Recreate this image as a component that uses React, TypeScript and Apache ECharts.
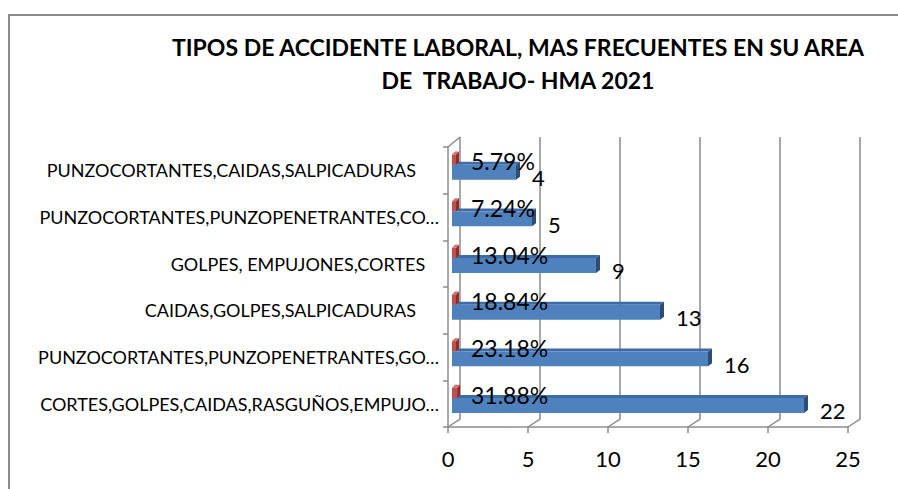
import React, { useEffect, useRef } from "react";
import * as echarts from "echarts";

const titleLines = [
  "TIPOS DE ACCIDENTE LABORAL, MAS FRECUENTES EN SU AREA",
  "DE  TRABAJO- HMA 2021",
];
// bottom to top (trailing no-break spaces as in the original labels)
const categories = [
  "CORTES,GOLPES,CAIDAS,RASGUÑOS,EMPUJO…",
  "PUNZOCORTANTES,PUNZOPENETRANTES,GO…",
  "CAIDAS,GOLPES,SALPICADURAS\u00A0\u00A0\u00A0\u00A0\u00A0",
  "GOLPES, EMPUJONES,CORTES\u00A0\u00A0\u00A0",
  "PUNZOCORTANTES,PUNZOPENETRANTES,CO…",
  "PUNZOCORTANTES,CAIDAS,SALPICADURAS\u00A0\u00A0\u00A0\u00A0\u00A0",
];
const counts = [22, 16, 13, 9, 5, 4];
const percents = [31.88, 23.18, 18.84, 13.04, 7.24, 5.79];
const xTicks = [0, 5, 10, 15, 20, 25];

const FONT = "Lato, 'Noto Sans', sans-serif";
const GRID = "#8c8c8c";

export default function App() {
  const ref = useRef<HTMLDivElement>(null);
  useEffect(() => {
    if (!ref.current) return;
    const chart = echarts.init(ref.current, undefined, { renderer: "svg" });
    const option: any = {
      animation: false,
      backgroundColor: "#fff",
      textStyle: { fontFamily: FONT },
      grid: { left: 448, top: 147, width: 400, height: 280 },
      xAxis: {
        type: "value",
        min: 0,
        max: 25,
        interval: 5,
        splitLine: { show: false },
        axisLine: { show: true, lineStyle: { color: GRID, width: 1.5 } },
        axisTick: { show: true, length: 6, lineStyle: { color: GRID, width: 1.5 } },
        axisLabel: { margin: 20, fontSize: 22, color: "#000", fontFamily: FONT },
      },
      yAxis: {
        type: "category",
        data: categories,
        axisLine: { show: true, lineStyle: { color: GRID, width: 1.5 } },
        axisTick: { show: true, length: 5, lineStyle: { color: GRID, width: 1.5 } },
        axisLabel: {
          margin: 9,
          fontSize: 18,
          color: "#000",
          fontFamily: FONT,
          padding: [6, 0, 0, 0],
        },
      },
      graphic: [
        {
          type: "rect",
          shape: { x: 9, y: 15, width: 1000, height: 1000 },
          style: { fill: "none", stroke: "#8a8a8a", lineWidth: 2 },
          silent: true,
        },
        ...titleLines.map((t, k) => ({
          type: "text",
          x: 518,
          y: 47 + k * 33,
          style: {
            text: t,
            fill: "#000",
            fontSize: 23,
            fontWeight: "bold",
            fontFamily: FONT,
            textAlign: "center",
            textVerticalAlign: "middle",
          },
        })),
      ],
      series: [
        {
          type: "custom",
          name: "grid3d",
          z: 1,
          silent: true,
          data: xTicks.map((v) => [v, 0]),
          encode: { x: 0, y: 1 },
          renderItem: (params: any, api: any) => {
            const cs = params.coordSys;
            const v = api.value(0);
            const fx = api.coord([v, 0])[0];
            const bottom = cs.y + cs.height;
            const top = cs.y;
            const dx = 12;
            const dy = 8;
            const children: any[] = [
              {
                type: "polyline",
                shape: {
                  points: [
                    [fx, bottom],
                    [fx + dx, bottom - dy],
                    [fx + dx, top - 10],
                  ],
                },
                style: { stroke: GRID, lineWidth: 1.5, fill: "none" },
              },
            ];
            if (v === 0) {
              children.push({
                type: "polyline",
                shape: { points: [[fx, top], [fx + dx, top - 10]] },
                style: { stroke: GRID, lineWidth: 1.5, fill: "none" },
              });
            }
            return { type: "group", children };
          },
        },
        {
          type: "custom",
          name: "Cantidad",
          z: 3,
          data: counts.map((v, i) => [v, i]),
          encode: { x: 0, y: 1 },
          renderItem: (params: any, api: any) => {
            const v = api.value(0);
            const i = api.value(1);
            const s = api.coord([0, i]);
            const e = api.coord([v, i]);
            const band = api.size([0, 1])[1];
            const x0 = s[0] + 4;
            const x1 = e[0] + 4;
            const y0 = s[1] - band * 0.12;
            const y1 = s[1] + band * 0.2;
            const dx = 4;
            const dy = 3;
            return {
              type: "group",
              children: [
                {
                  type: "polygon",
                  shape: { points: [[x0, y0], [x1, y0], [x1 + dx, y0 - dy], [x0 + dx, y0 - dy]] },
                  style: { fill: "#3d6ba6" },
                },
                {
                  type: "polygon",
                  shape: { points: [[x1, y0], [x1 + dx, y0 - dy], [x1 + dx, y1 - dy], [x1, y1]] },
                  style: { fill: "#2c4d75" },
                },
                {
                  type: "rect",
                  shape: { x: x0, y: y0, width: x1 - x0, height: y1 - y0 },
                  style: { fill: "#4f81bd" },
                },
                {
                  type: "text",
                  x: x1 + 16,
                  y: s[1] + 7,
                  style: {
                    text: String(v),
                    fill: "#000",
                    fontSize: 22,
                    fontFamily: FONT,
                    textAlign: "left",
                    textVerticalAlign: "middle",
                  },
                },
              ],
            };
          },
        },
        {
          type: "custom",
          name: "Porcentaje",
          z: 4,
          data: percents.map((p, i) => [p / 100, i, p]),
          encode: { x: 0, y: 1 },
          renderItem: (params: any, api: any) => {
            const v = api.value(0);
            const i = api.value(1);
            const p = api.value(2);
            const s = api.coord([0, i]);
            const e = api.coord([v, i]);
            const band = api.size([0, 1])[1];
            const x0 = s[0] + 4;
            const x1 = Math.max(e[0] + 4, x0 + 4);
            const y0 = s[1] - band * 0.34;
            const y1 = s[1] - band * 0.12;
            const dx = 3;
            const dy = 3;
            return {
              type: "group",
              children: [
                {
                  type: "polygon",
                  shape: { points: [[x0, y0], [x1, y0], [x1 + dx, y0 - dy], [x0 + dx, y0 - dy]] },
                  style: { fill: "#d0706d" },
                },
                {
                  type: "polygon",
                  shape: { points: [[x1, y0], [x1 + dx, y0 - dy], [x1 + dx, y1 - dy], [x1, y1]] },
                  style: { fill: "#8c2f2c" },
                },
                {
                  type: "rect",
                  shape: { x: x0, y: y0, width: x1 - x0, height: y1 - y0 },
                  style: { fill: "#c0504d" },
                },
                {
                  type: "text",
                  x: s[0] + 23,
                  y: s[1] - 9,
                  style: {
                    text: p.toFixed(2) + "%",
                    fill: "#000",
                    fontSize: 23,
                    fontFamily: FONT,
                    textAlign: "left",
                    textVerticalAlign: "middle",
                  },
                },
              ],
            };
          },
        },
      ],
    };
    chart.setOption(option);
    return () => chart.dispose();
  }, []);
  return (
    <div
      ref={ref}
      style={{ position: "absolute", left: 0, top: 0, width: 898, height: 489 }}
    />
  );
}
